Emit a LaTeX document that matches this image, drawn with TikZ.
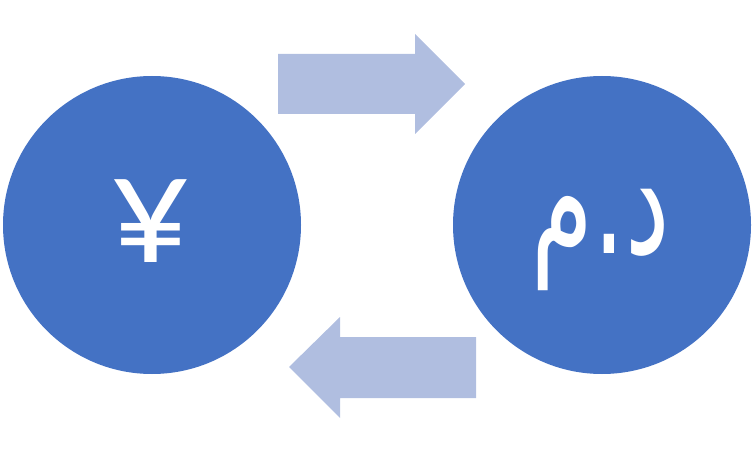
\documentclass[tikz,border=0pt]{standalone}
\usepackage{fontspec}
\newfontfamily\yenfont{Carlito}
\newfontfamily\arabicfont[Script=Arabic]{DejaVu Sans}
\TeXXeTstate=1
\definecolor{coinblue}{HTML}{4472C4}
\definecolor{arrowblue}{HTML}{B0BEE0}
\begin{document}
\begin{tikzpicture}[x=1pt,y=-1pt,
  coin/.style={circle,fill=coinblue,minimum size=298pt,inner sep=0pt},
  sign/.style={text=white,inner sep=0pt}]
  \useasboundingbox (0,0) rectangle (752,449);
  \node[coin] (yencoin) at (152,225) {};
  \node[coin] (dhcoin) at (602,225) {};
  \node[sign] (yen) at (151,221) {\yenfont\fontsize{158}{158}\selectfont ¥};
  \node[sign,yscale=1.55] (dh) at (601,240) {\arabicfont\fontsize{100}{100}\selectfont\beginR د.م\endR};
  % exchange arrows
  \fill[arrowblue] (278,54) -- (415,54) -- (415,34) -- (465,84) -- (415,134)
    -- (415,114) -- (278,114) -- cycle;
  \fill[arrowblue] (476,337) -- (340,337) -- (340,317) -- (289,367) -- (340,418)
    -- (340,398) -- (476,398) -- cycle;
\end{tikzpicture}
\end{document}
